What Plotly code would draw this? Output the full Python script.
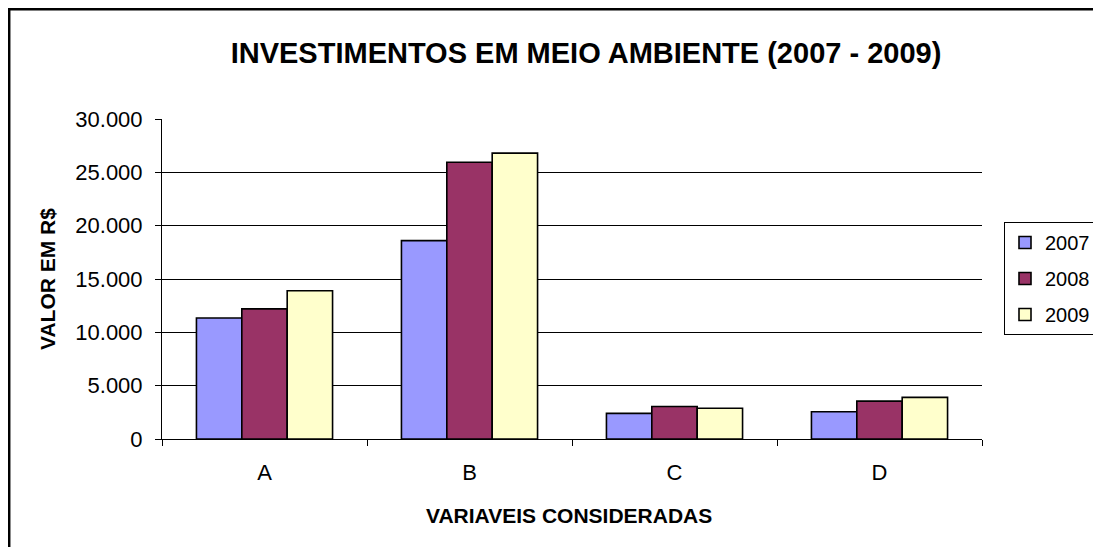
import plotly.graph_objects as go

categories = ["A", "B", "C", "D"]
years = ["2007", "2008", "2009"]
v2007 = [11350, 18600, 2400, 2550]
v2008 = [12200, 25950, 3050, 3550]
v2009 = [13900, 26800, 2880, 3900]
series = [v2007, v2008, v2009]
colors = ["#9999FF", "#993366", "#FFFFCC"]

# page has an 8px body margin; figure coordinates below are page px - 8
W, H = 1093, 539
L, T = 154, 111
R, B = W - 974, H - 431
pw, ph = W - L - R, H - T - B

fig = go.Figure()
for i, (name, vals) in enumerate(zip(years, series)):
    fig.add_trace(go.Bar(
        x=categories, y=vals, name=name,
        marker=dict(color=colors[i], line=dict(color="black", width=1.6)),
        legendgroup=name,
    ))

def px_x(p):
    return (p - L) / pw

def px_y(p):
    return (H - B - p) / ph

fig.update_layout(
    width=W, height=H,
    margin=dict(l=L, r=R, t=T, b=B, autoexpand=False),
    paper_bgcolor="white", plot_bgcolor="white",
    separators=",.",
    barmode="group", bargap=0.336, bargroupgap=0,
    font=dict(family="Liberation Sans, Arial, sans-serif", color="black"),
    title=dict(text="<b>INVESTIMENTOS EM MEIO AMBIENTE (2007 - 2009)</b>",
               font=dict(size=29, color="black"),
               x=px_x(578), xref="paper", xanchor="center",
               y=1 - 45 / H, yref="container", yanchor="middle"),
    xaxis=dict(
        type="category", tickson="boundaries", ticks="outside", ticklen=6,
        tickcolor="black", showline=True, linecolor="black", linewidth=1,
        tickfont=dict(size=22), showgrid=False, ticklabelstandoff=14,
    ),
    yaxis=dict(
        range=[0, 30000], tick0=0, dtick=5000, tickformat=",d",
        ticks="outside", ticklen=6, tickcolor="black",
        showline=True, linecolor="black", linewidth=1,
        showgrid=True, gridcolor="black", gridwidth=1, zeroline=False,
        tickfont=dict(size=22), ticklabelstandoff=8,
    ),
    legend=dict(
        x=px_x(996), xref="paper", xanchor="left",
        y=px_y(214), yref="paper", yanchor="top",
        bordercolor="black", borderwidth=1, bgcolor="white",
        font=dict(size=20), tracegroupgap=7, itemwidth=30,
    ),
    annotations=[
        dict(text="<b>VALOR EM R$</b>", textangle=-90, font=dict(size=21),
             x=px_x(39), y=px_y(271), xref="paper", yref="paper",
             xanchor="center", yanchor="middle", showarrow=False),
        dict(text="<b>VARIAVEIS CONSIDERADAS</b>", font=dict(size=21),
             x=px_x(561), y=px_y(507), xref="paper", yref="paper",
             xanchor="center", yanchor="middle", showarrow=False),
    ],
    shapes=[dict(type="rect", xref="paper", yref="paper",
                 x0=px_x(1.2), x1=px_x(1160), y0=px_y(1.2), y1=px_y(620),
                 line=dict(color="black", width=2.5), fillcolor="rgba(0,0,0,0)",
                 layer="below")],
)

fig.write_html("out.html")
